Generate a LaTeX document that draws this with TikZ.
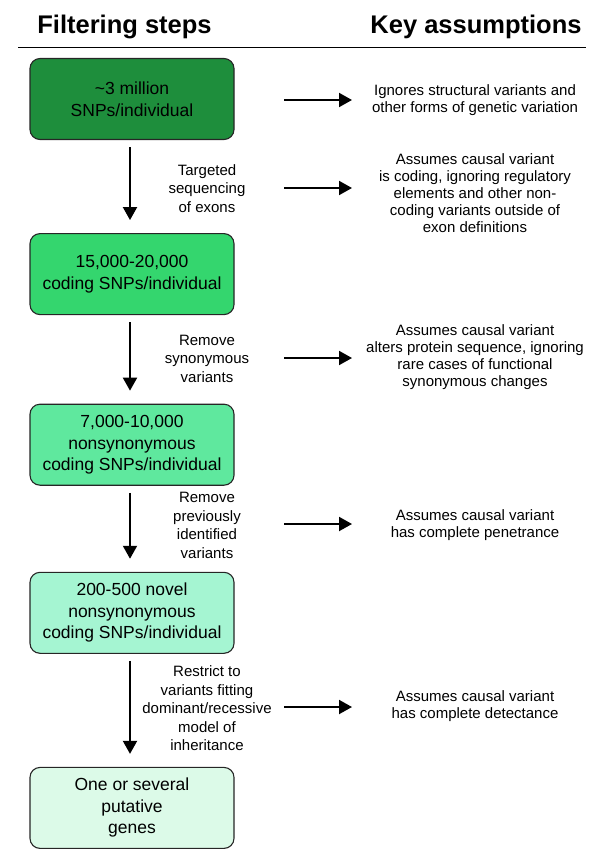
\documentclass[tikz,border=0pt]{standalone}
\usepackage{fontspec}
\setmainfont{Liberation Sans}
\usetikzlibrary{arrows.meta,positioning}

\definecolor{step1}{RGB}{30,142,60}
\definecolor{step2}{RGB}{52,214,110}
\definecolor{step3}{RGB}{95,232,158}
\definecolor{step4}{RGB}{165,245,210}
\definecolor{step5}{RGB}{220,250,232}

\begin{document}
\begin{tikzpicture}[x=1pt,y=1pt,>={Triangle[length=13pt,width=14pt]},
    stepbox/.style={draw=black!85,line width=1.1pt,rounded corners=10pt,
        minimum width=204pt,minimum height=81pt,inner sep=0pt,align=center,
        font=\fontsize{17.5}{21.5}\selectfont},
    filter/.style={align=center,font=\fontsize{15}{18.5}\selectfont},
    assume/.style={align=center,font=\fontsize{15}{17}\selectfont},
    heading/.style={font=\fontsize{25.5}{30}\selectfont\bfseries},
    flow/.style={->,line width=2pt}]

            \useasboundingbox (0,0) rectangle (600,-855);

            % headings and rule
            \node[heading] (hfilter) at (124.5,-27) {Filtering steps};
            \node[heading] (hassume) at (476,-27) {Key assumptions};
            \coordinate (rulel) at (18,-47.5);
            \coordinate (ruler) at (586,-47.5);
            \draw[line width=1pt] (rulel) -- (ruler);

            % filtering steps
            \node[stepbox,fill=step1] (b1) at (132,-99) {\textasciitilde3 million\\SNPs/individual};

            \node[stepbox,fill=step2] (b2) [below=93pt of b1] {15,000-20,000\\coding SNPs/individual};

            \node[stepbox,fill=step3] (b3) [below=88.5pt of b2] {7,000-10,000\\nonsynonymous\\coding SNPs/individual};

            \node[stepbox,fill=step4] (b4) [below=86pt of b3] {200-500 novel\\nonsynonymous\\coding SNPs/individual};

            \node[stepbox,fill=step5] (b5) [below=113pt of b4] {One or several\\putative\\genes};

            % filters
            \node[filter] (l1) at (207,-188.5) {Targeted\\sequencing\\of exons};
            \node[filter] (l2) at (207,-358.5) {Remove\\synonymous\\variants};
            \node[filter] (l3) at (207,-525.5) {Remove\\previously\\identified\\variants};
            \node[filter] (l4) at (207,-708.5) {Restrict to\\variants fitting\\dominant/recessive\\model of\\inheritance};

            % assumptions
            \node[assume] (k1) at (475,-100) {Ignores structural variants and\\other forms of genetic variation};
            \node[assume] (k2) at (475,-193.5) {Assumes causal variant\\is coding, ignoring regulatory\\elements and other non-\\coding variants outside of\\exon definitions};
            \node[assume] (k3) at (475,-357.5) {Assumes causal variant\\alters protein sequence, ignoring\\rare cases of functional\\synonymous changes};
            \node[assume] (k4) at (475,-525) {Assumes causal variant\\has complete penetrance};
            \node[assume] (k5) at (475,-706.5) {Assumes causal variant\\has complete detectance};

            \foreach \y/\n in {100/1,188/2,358/3,524/4,707/5}
            {
                \coordinate (s\n) at (284,-\y);
                \coordinate (e\n) at (352,-\y);
                \draw[flow] (s\n) -- (e\n);
              }

            \foreach \from/\to in {b1/b2, b2/b3, b3/b4, b4/b5}
	   {
                \draw[flow,shorten <=7pt,shorten >=13pt] ([xshift=-2pt]\from.south) -- ([xshift=-2pt]\to.north);
              }

        \end{tikzpicture}
\end{document}
